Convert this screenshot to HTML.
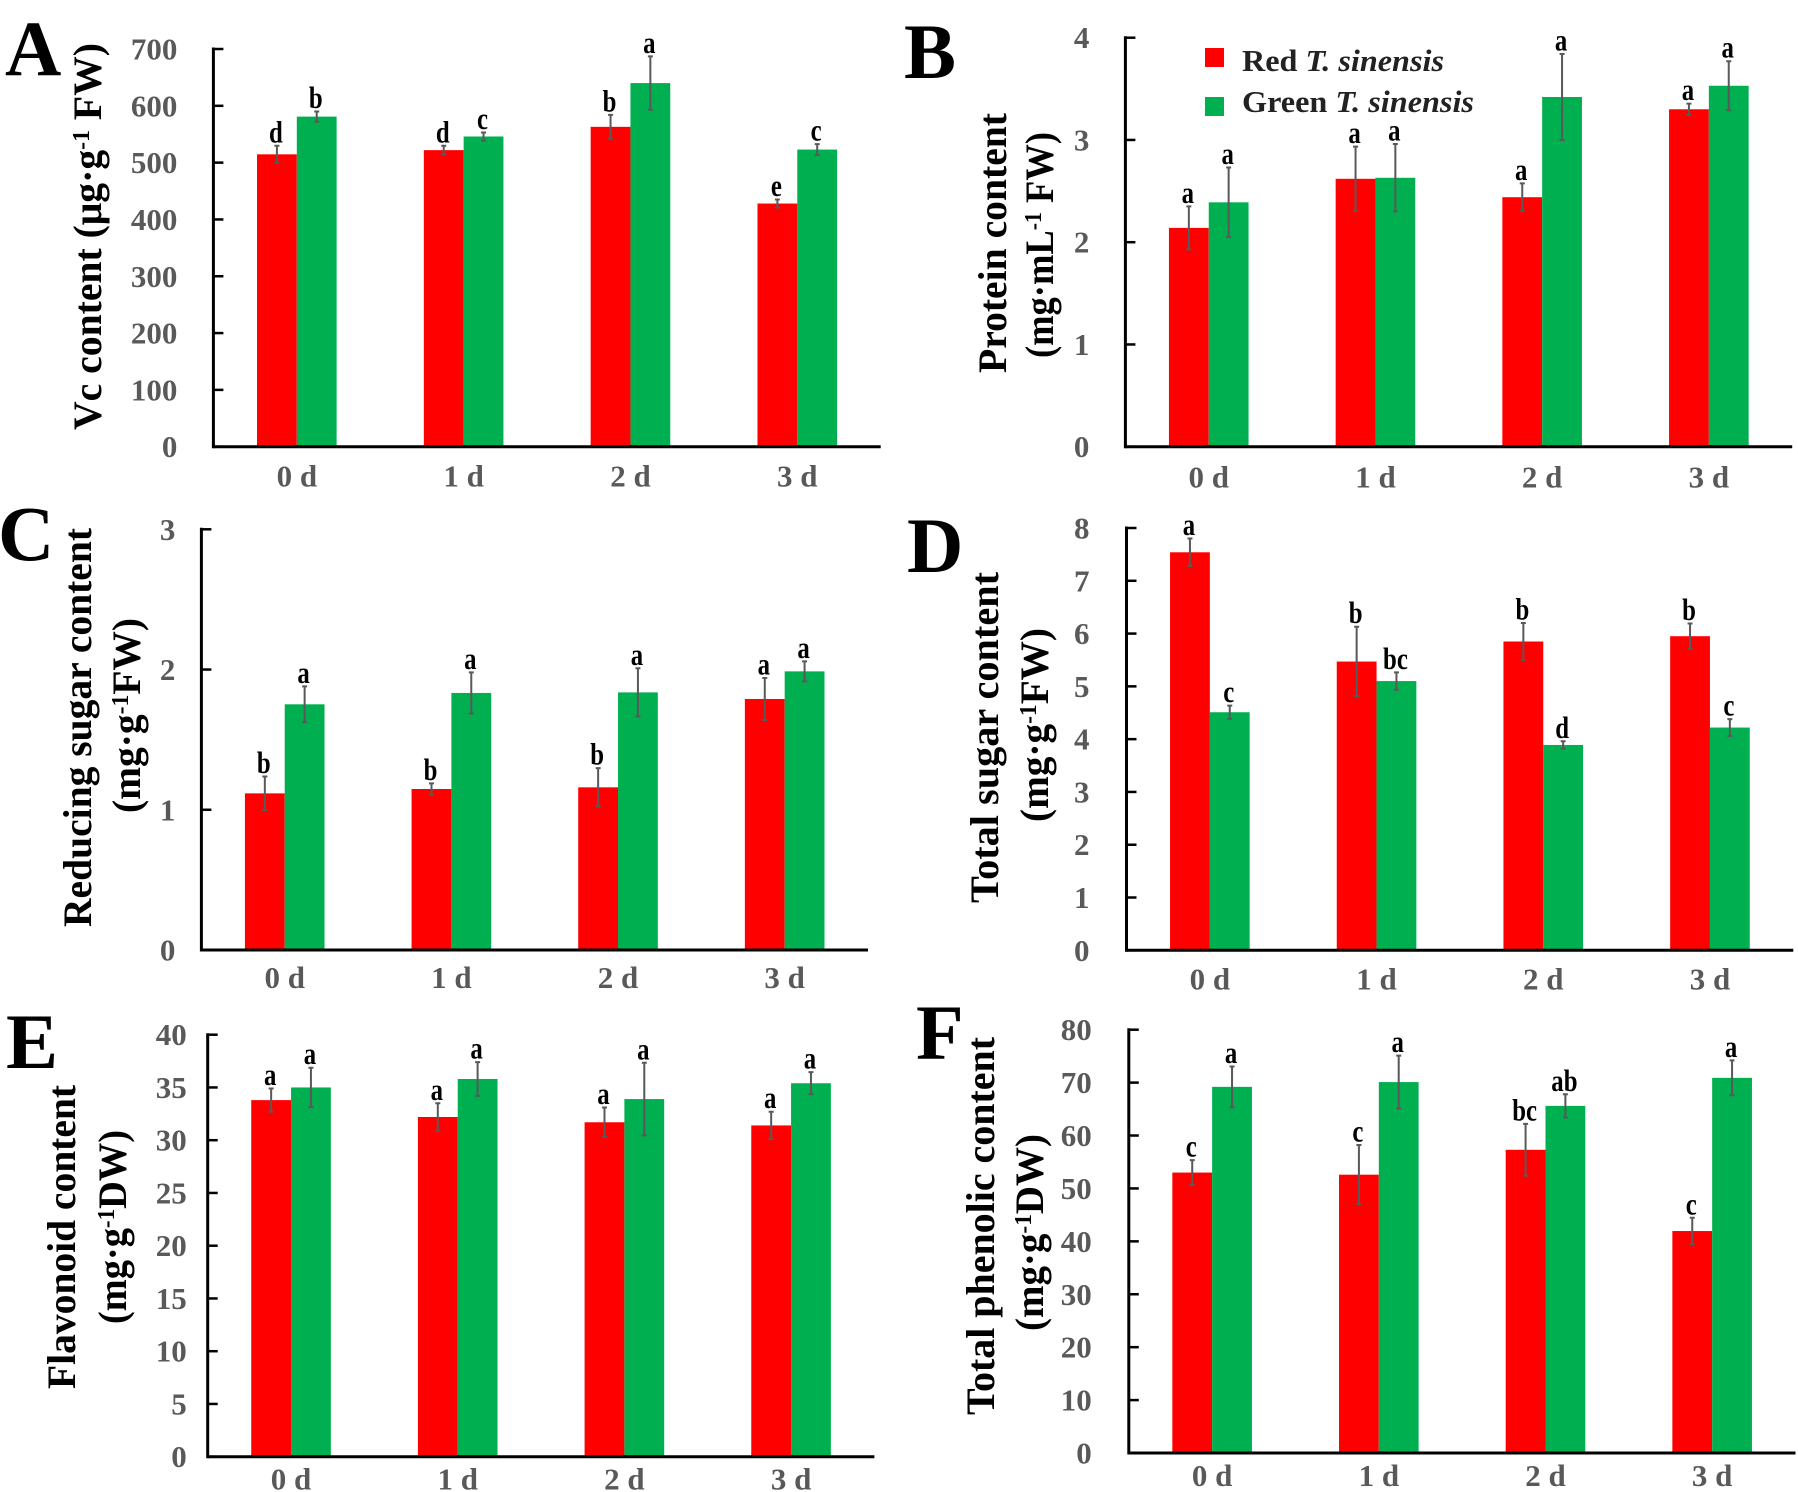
<!DOCTYPE html>
<html lang="en">
<head>
<meta charset="utf-8">
<title>Contents of red and green T. sinensis over storage days</title>
<style>
  html, body { margin: 0; padding: 0; background: #fff; }
  svg { display: block; font-family: "Liberation Serif", serif; font-weight: bold; }
  .panel-letter { font-size: 78px; fill: #000; }
  .axis-title { font-size: 40px; fill: #000; }
  .axis-title tspan.sup { font-size: 24px; }
  .legend-text { font-size: 31px; fill: #222; }
  .tick { font-size: 31px; fill: #595959; }
  .sig { font-size: 31px; fill: #000; text-anchor: middle; }
</style>
</head>
<body>
<svg id="figure" width="1798" height="1492" viewBox="0 0 1798 1492" xmlns="http://www.w3.org/2000/svg">
  <rect width="1798" height="1492" fill="#fff"/>

  <text class="panel-letter" x="5" y="75">A</text>
  <text class="panel-letter" x="904" y="78">B</text>
  <text class="panel-letter" x="-2" y="560">C</text>
  <text class="panel-letter" x="907" y="572">D</text>
  <text class="panel-letter" x="6" y="1068">E</text>
  <text class="panel-letter" x="916" y="1059">F</text>

  <text class="axis-title" transform="translate(101,430) rotate(-90)" textLength="387" lengthAdjust="spacingAndGlyphs">Vc content (μg·g<tspan class="sup" dy="-12">-1</tspan><tspan dy="12"> FW)</tspan></text>

  <text class="axis-title" transform="translate(1006,373) rotate(-90)" textLength="260" lengthAdjust="spacingAndGlyphs">Protein content</text>
  <text class="axis-title" transform="translate(1053,358) rotate(-90)" textLength="226" lengthAdjust="spacingAndGlyphs">(mg·mL<tspan class="sup" dy="-12">-1</tspan><tspan dy="12"> FW)</tspan></text>

  <text class="axis-title" transform="translate(91,927) rotate(-90)" textLength="399" lengthAdjust="spacingAndGlyphs">Reducing sugar content</text>
  <text class="axis-title" transform="translate(140,813) rotate(-90)" textLength="195" lengthAdjust="spacingAndGlyphs">(mg·g<tspan class="sup" dy="-12">-1</tspan><tspan dy="12">FW)</tspan></text>

  <text class="axis-title" transform="translate(998,903) rotate(-90)" textLength="331" lengthAdjust="spacingAndGlyphs">Total sugar content</text>
  <text class="axis-title" transform="translate(1048,822) rotate(-90)" textLength="194" lengthAdjust="spacingAndGlyphs">(mg·g<tspan class="sup" dy="-12">-1</tspan><tspan dy="12">FW)</tspan></text>

  <text class="axis-title" transform="translate(75,1389) rotate(-90)" textLength="304" lengthAdjust="spacingAndGlyphs">Flavonoid content</text>
  <text class="axis-title" transform="translate(126,1324) rotate(-90)" textLength="194" lengthAdjust="spacingAndGlyphs">(mg·g<tspan class="sup" dy="-12">-1</tspan><tspan dy="12">DW)</tspan></text>

  <text class="axis-title" transform="translate(994,1415) rotate(-90)" textLength="378" lengthAdjust="spacingAndGlyphs">Total phenolic content</text>
  <text class="axis-title" transform="translate(1043,1331) rotate(-90)" textLength="197" lengthAdjust="spacingAndGlyphs">(mg·g<tspan class="sup" dy="-12">-1</tspan><tspan dy="12">DW)</tspan></text>

  <g id="charts"></g>

  <g>
    <rect x="1205" y="48" width="19" height="19" fill="#ff0000"/>
    <text class="legend-text" x="1242" y="71" textLength="202" lengthAdjust="spacingAndGlyphs">Red <tspan font-style="italic">T. sinensis</tspan></text>
    <rect x="1205" y="97" width="19" height="19" fill="#00b050"/>
    <text class="legend-text" x="1242" y="112" textLength="232" lengthAdjust="spacingAndGlyphs">Green <tspan font-style="italic">T. sinensis</tspan></text>
  </g>
</svg>

<script>
var categories = ['0 d', '1 d', '2 d', '3 d'];

var aTicks = [0, 100, 200, 300, 400, 500, 600, 700];
var aRed = [514.6, 522, 563, 428];
var aGreen = [581, 546, 640, 523];
var aRedErr = [15, 7.6, 21, 7];
var aGreenErr = [9, 7, 47, 9.6];
var aRedSig = ['d', 'd', 'b', 'e'];
var aGreenSig = ['b', 'c', 'a', 'c'];

var bTicks = [0, 1, 2, 3, 4];
var bRed = [2.14, 2.62, 2.44, 3.30];
var bGreen = [2.39, 2.63, 3.42, 3.53];
var bRedErr = [0.21, 0.315, 0.135, 0.055];
var bGreenErr = [0.34, 0.33, 0.42, 0.24];
var bRedSig = ['a', 'a', 'a', 'a'];
var bGreenSig = ['a', 'a', 'a', 'a'];

var cTicks = [0, 1, 2, 3];
var cRed = [1.117, 1.148, 1.16, 1.79];
var cGreen = [1.752, 1.833, 1.837, 1.987];
var cRedErr = [0.12, 0.04, 0.137, 0.15];
var cGreenErr = [0.128, 0.147, 0.172, 0.071];
var cRedSig = ['b', 'b', 'b', 'a'];
var cGreenSig = ['a', 'a', 'a', 'a'];

var dTicks = [0, 1, 2, 3, 4, 5, 6, 7, 8];
var dRed = [7.54, 5.47, 5.85, 5.95];
var dGreen = [4.51, 5.10, 3.89, 4.22];
var dRedErr = [0.26, 0.66, 0.35, 0.24];
var dGreenErr = [0.125, 0.165, 0.07, 0.16];
var dRedSig = ['a', 'b', 'b', 'b'];
var dGreenSig = ['c', 'bc', 'd', 'c'];

var eTicks = [0, 5, 10, 15, 20, 25, 30, 35, 40];
var eRed = [33.8, 32.2, 31.7, 31.4];
var eGreen = [35.0, 35.8, 33.9, 35.4];
var eRedErr = [1.1, 1.3, 1.4, 1.3];
var eGreenErr = [1.87, 1.6, 3.44, 1.05];
var eRedSig = ['a', 'a', 'a', 'a'];
var eGreenSig = ['a', 'a', 'a', 'a'];

var fTicks = [0, 10, 20, 30, 40, 50, 60, 70, 80];
var fRed = [53.0, 52.6, 57.3, 41.95];
var fGreen = [69.2, 70.1, 65.6, 70.9];
var fRedErr = [2.35, 5.6, 4.9, 2.5];
var fGreenErr = [3.85, 5, 2.2, 3.3];
var fRedSig = ['c', 'c', 'bc', 'c'];
var fGreenSig = ['a', 'a', 'ab', 'a'];

var SVG_NS = 'http://www.w3.org/2000/svg';
var RED = '#ff0000';
var GREEN = '#00b050';
var ERR = '#595959';
var BAR_W = 39.8;

function make(tag, attrs, parent, text) {
  var el = document.createElementNS(SVG_NS, tag);
  for (var k in attrs) el.setAttribute(k, attrs[k]);
  if (text !== undefined) el.textContent = text;
  parent.appendChild(el);
  return el;
}

function drawSeries(g, id, side, fill, values, errs, sigs, xBand, yScale, y0) {
  values.forEach(function (v, i) {
    var cx = xBand(i);
    var bx = side < 0 ? cx - BAR_W : cx;
    var mid = bx + BAR_W / 2;
    var topY = yScale(v);
    var bar = make('rect', { x: bx, y: topY, width: BAR_W, height: y0 - topY, fill: fill }, g);
    
    

    var hi = yScale(v + errs[i]);
    var lo = yScale(v - errs[i]);
    var err = make('path', {
      d: 'M' + mid + ' ' + hi + 'V' + lo + 'M' + (mid - 2.5) + ' ' + hi + 'H' + (mid + 2.5) + 'M' + (mid - 2.5) + ' ' + lo + 'H' + (mid + 2.5),
      stroke: ERR, 'stroke-width': 2, fill: 'none'
    }, g);
    
    

    var sig = make('text', { 'class': 'sig', transform: 'translate(' + (mid - 1) + ',' + (hi - 3.5) + ') scale(0.8,1)' }, g, sigs[i]);
    
    
  });
}

function drawPanel(p) {
  var root = document.getElementById('charts');
  var g = make('g', {}, root);
  
  

  var max = p.ticks[p.ticks.length - 1];
  var yScale = function (v) { return p.base - (v / max) * (p.base - p.top); };
  var band = (p.right - p.left) / categories.length;
  var xBand = function (i) { return p.left + (i + 0.5) * band; };

  drawSeries(g, p.id + '-red', -1, RED, p.red, p.redErr, p.redSig, xBand, yScale, p.base);
  drawSeries(g, p.id + '-green', 1, GREEN, p.green, p.greenErr, p.greenSig, xBand, yScale, p.base);

  var yAxis = make('line', { x1: p.left, x2: p.left, y1: p.top - 1.5, y2: p.base + 1.5, stroke: '#000', 'stroke-width': 3 }, g);
  
  

  var xAxis = make('line', { x1: p.left, x2: p.right, y1: p.base, y2: p.base, stroke: '#000', 'stroke-width': 3 }, g);
  
  

  p.ticks.forEach(function (t) {
    var y = yScale(t);
    var mark = make('line', { x1: p.left, x2: p.left + 10, y1: y, y2: y, stroke: '#000', 'stroke-width': 2.5 }, g);
    
    
    var label = make('text', { 'class': 'tick', x: p.left - p.tickGap, y: y + 10.5, 'text-anchor': 'end' }, g, String(t));
    
    
  });

  categories.forEach(function (c, i) {
    var label = make('text', { 'class': 'tick', x: xBand(i), y: p.base + p.catGap, 'text-anchor': 'middle' }, g, c);
    
    
  });
}

drawPanel({ id: 'a', left: 213.4, right: 880.7, top: 49, base: 446.7, tickGap: 36, catGap: 40, ticks: aTicks, red: aRed, green: aGreen, redErr: aRedErr, greenErr: aGreenErr, redSig: aRedSig, greenSig: aGreenSig });
drawPanel({ id: 'b', left: 1125.4, right: 1792.2, top: 37.7, base: 446.7, tickGap: 36, catGap: 41, ticks: bTicks, red: bRed, green: bGreen, redErr: bRedErr, greenErr: bGreenErr, redSig: bRedSig, greenSig: bGreenSig });
drawPanel({ id: 'c', left: 201.4, right: 868, top: 529.3, base: 950, tickGap: 26, catGap: 38, ticks: cTicks, red: cRed, green: cGreen, redErr: cRedErr, greenErr: cGreenErr, redSig: cRedSig, greenSig: cGreenSig });
drawPanel({ id: 'd', left: 1126.5, right: 1793.3, top: 528, base: 950.3, tickGap: 37, catGap: 39, ticks: dTicks, red: dRed, green: dGreen, redErr: dRedErr, greenErr: dGreenErr, redSig: dRedSig, greenSig: dGreenSig });
drawPanel({ id: 'e', left: 207.7, right: 874.4, top: 1034.7, base: 1456.7, tickGap: 21, catGap: 33, ticks: eTicks, red: eRed, green: eGreen, redErr: eRedErr, greenErr: eGreenErr, redSig: eRedSig, greenSig: eGreenSig });
drawPanel({ id: 'f', left: 1128.8, right: 1795.5, top: 1029.7, base: 1453, tickGap: 37, catGap: 33, ticks: fTicks, red: fRed, green: fGreen, redErr: fRedErr, greenErr: fGreenErr, redSig: fRedSig, greenSig: fGreenSig });
</script>
</body>
</html>
